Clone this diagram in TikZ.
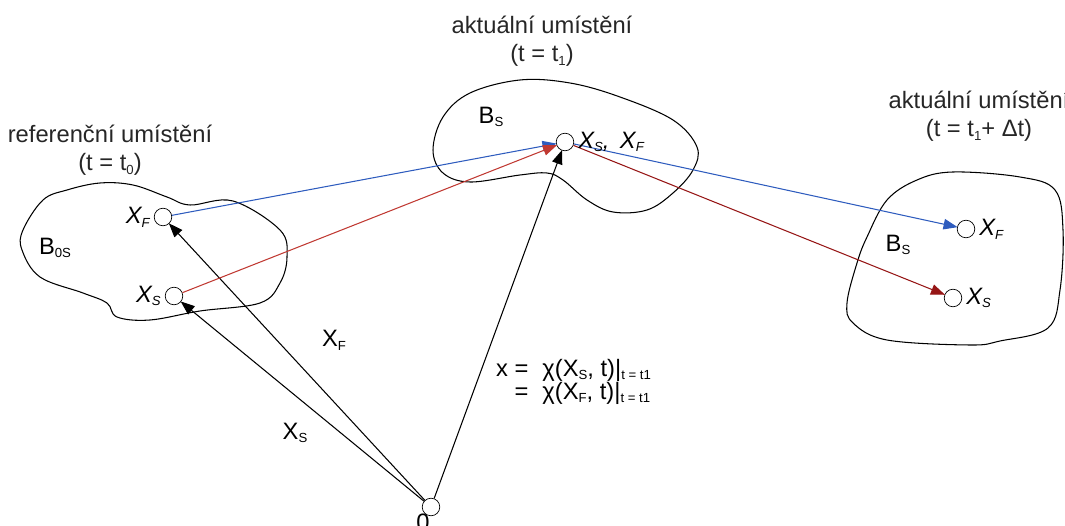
\documentclass[tikz,border=0pt]{standalone}
\usepackage{fontspec}
\setmainfont{Liberation Sans}
\usetikzlibrary{arrows.meta,positioning}
\definecolor{KinBlue}{RGB}{46,92,190}
\definecolor{KinRed}{RGB}{192,57,50}
\definecolor{KinDarkRed}{RGB}{150,22,22}
\tikzset{
  kin/point/.style={circle, draw, thin, fill=white, inner sep=0pt, minimum size=10},
  kin/body/.style={draw, line width=0.6pt},
  kin/vec/.style={-{Triangle[length=8pt,width=6pt]}, line width=0.6pt, shorten >=-0.3pt},
  kin/label/.style={font=\fontsize{13.5}{16}\selectfont, inner sep=1pt},
  kin/title/.style={font=\fontsize{13.5}{16}\selectfont, align=center, text=black!85}
}
\newcommand{\sub}[1]{\raisebox{-0.3ex}{\fontsize{7.5}{8}\selectfont #1}}
\begin{document}
\begin{tikzpicture}[x=0.02cm,y=-0.02cm]
  \useasboundingbox (0,0) rectangle (1065,526);
  % bodies
  \draw[kin/body] plot[smooth cycle, tension=0.6] coordinates {
    (22,250) (23,230) (43,200) (67,190) (100,183) (133,185) (167,197) (190,205)
    (233,201) (280,230) (287,257) (280,283) (260,303) (200,311) (150,320)
    (117,317) (107,303) (83,293) (40,277)};
  \draw[kin/body] plot[smooth cycle, tension=0.6] coordinates {
    (520,80) (470,93) (443,117) (433,150) (443,173) (470,182) (520,175) (547,173)
    (563,180) (587,200) (613,212) (647,210) (673,193) (693,170) (697,147)
    (673,120) (620,97) (570,83)};
  \draw[kin/body] plot[smooth cycle, tension=0.6] coordinates {
    (953,172) (1020,177) (1055,190) (1063,230) (1060,290) (1048,328) (1000,341)
    (970,345) (887,340) (853,323) (847,303) (857,263) (867,237) (887,200) (917,180)};
  % points
  \node[kin/point] (o) at (431,507) {};
  \node[kin/point] (pF) at (163,217) {};
  \node[kin/point] (pS) at (174,296) {};
  \node[kin/point] (pM) at (565,142) {};
  \node[kin/point] (qF) at (966,229) {};
  \node[kin/point] (qS) at (953,298) {};
  % vectors
  \draw[kin/vec] (o) -- (pF);
  \draw[kin/vec] (o) -- (pS);
  \draw[kin/vec] (o) -- (pM);
  \draw[kin/vec, KinBlue] (pF) -- (pM);
  \draw[kin/vec, KinRed] (pS) -- (pM);
  \draw[kin/vec, KinBlue] (pM) -- (qF);
  \draw[kin/vec, KinDarkRed] (pM) -- (qS);
  % labels
  \node[kin/label, left=2 of pF] (lpF) {\textit{X\sub{F}}};
  \node[kin/label, left=2 of pS] (lpS) {\textit{X\sub{S}}};
  \node[kin/label, right=2 of pM] (lpM) {\textit{X\sub{S}, \,X\sub{F}}};
  \node[kin/label, right=2 of qF] (lqF) {\textit{X\sub{F}}};
  \node[kin/label, right=2 of qS] (lqS) {\textit{X\sub{S}}};
  \node[kin/label] (lo) at (423,522) {0};
  \node[kin/label] (vF) at (334,340) {X\sub{F}};
  \node[kin/label] (vS) at (295,433) {X\sub{S}};
  \node[kin/label] (b0) at (55,248) {B\sub{0S}};
  \node[kin/label] (b1) at (491,117) {B\sub{S}};
  \node[kin/label] (b2) at (898,245) {B\sub{S}};
  \node[kin/label, anchor=west] (map) at (494,382) {%
    \begin{tabular}{@{}r@{\hspace{8pt}}l@{}}
      x = & χ(X\sub{S}, t)|\sub{t = t1}\\[-3pt]
      = & χ(X\sub{F}, t)|\sub{t = t1}
    \end{tabular}};
  % titles
  \node[kin/title] (tref) at (110,150) {referenční umístění\\(t = t\sub{0})};
  \node[kin/title] (tcur) at (542,41) {aktuální umístění\\(t = t\sub{1})};
  \node[kin/title] (tnext) at (979,116) {aktuální umístění\\(t = t\sub{1}+ Δt)};
\end{tikzpicture}
\end{document}
